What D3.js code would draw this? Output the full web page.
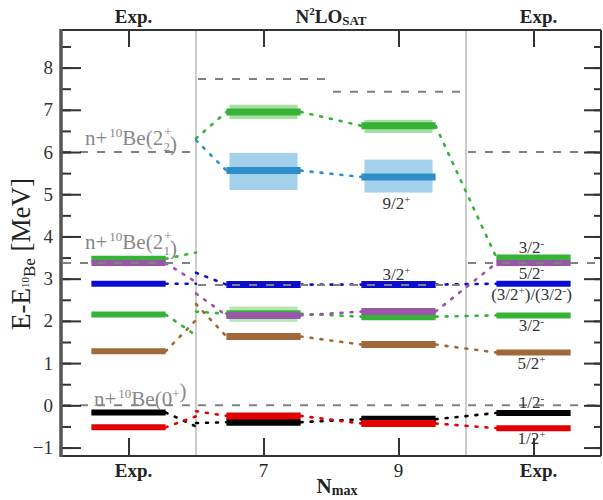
<!DOCTYPE html>
<html>
<head>
<meta charset="UTF-8">
<script src="https://cdn.jsdelivr.net/npm/d3@7/dist/d3.min.js"></script>
<style>
body { margin: 0; background: #fff; }
text { font-family: "Liberation Serif", "DejaVu Serif", serif; }
</style>
</head>
<body>
<script>
// columns of the level scheme
var columns = ['Exp.', '7', '9', 'Exp.']
var columnBold = [true, false, false, true]

// states, in drawing order
var stateColors = ['#36b236', '#2e8ec9', '#36b236', '#0c0cd0', '#9a56a8', '#a1693a', '#000000', '#e20000']
var bandColors  = ['#a6dfa6', '#a3d0ea', '#b3e8b3', null, null, null, null, null]
// energies [MeV] at Exp, Nmax=7, Nmax=9, Exp
var energies = [
    [3.47, 6.95, 6.62, 3.50],
    [null, 5.56, 5.41, null],
    [2.15, 2.17, 2.10, 2.13],
    [2.88, 2.86, 2.86, 2.88],
    [3.37, 2.13, 2.22, 3.37],
    [1.28, 1.63, 1.44, 1.25],
    [-0.17, -0.40, -0.33, -0.18],
    [-0.52, -0.25, -0.43, -0.54]
]
var bandLow  = [[null, 6.78, 6.45, null], [null, 5.10, 5.04, null], [null, 1.98, null, null]]
var bandHigh = [[null, 7.12, 6.76, null], [null, 5.98, 5.82, null], [null, 2.34, null, null]]
// dotted links left of / right of the first separator
var sepLeft  = [3.62, null, 1.66, 2.88, 2.92, 2.02, -0.50, -0.26]
var sepRight = [6.32, 6.28, 2.22, 3.14, 2.65, 2.40, -0.42, -0.14]

// n+10Be thresholds per column
var thr0  = [0, 0, 0, 0]
var thr21 = [3.37, 2.85, 2.85, 3.37]
var thr22 = [6.0, 7.73, 7.43, 6.0]

// spin labels: text, parity, state index, above/below
var expLabels = [['3/2', '-', 0, 'above'], ['5/2', '-', 4, 'below'], ['(3/2+)/(3/2-)', '', 3, 'below'],
                 ['3/2', '-', 2, 'below'], ['5/2', '+', 5, 'below'], ['1/2', '-', 6, 'above'],
                 ['1/2', '+', 7, 'below']]
var thLabels = [['9/2', '+', 1, 'below'], ['3/2', '+', 3, 'above']]

var yTicks = d3.range(-1, 9, 1)
var yMinor = d3.range(-1, 9, 0.5)

var W = 603, H = 500
var L = 61, R = 601, T = 30, B = 456
var svg = d3.select('body').append('svg').attr('width', W).attr('height', H)

var x = d3.scaleLinear().domain([-0.5, 3.5]).range([L, R])
var y = d3.scaleLinear().domain([-1.2, 8.89]).range([B, T])
var hw = 0.275, bw = 0.252

// separators
svg.selectAll('.sep').data([0.5, 2.5]).enter().append('line')
    .attr('x1', d => x(d)).attr('x2', d => x(d)).attr('y1', T).attr('y2', B)
    .attr('stroke', '#bbb').attr('stroke-width', 1.5)

// dotted links
var links = []
energies.forEach(function(e, s) {
    if (sepLeft[s] != null) links.push([s, 0 + hw, e[0], 0.5, sepLeft[s]])
    if (sepRight[s] != null) links.push([s, 0.5, sepRight[s], 1 - hw, e[1]])
    links.push([s, 1 + hw, e[1], 2 - hw, e[2]])
    if (e[3] != null) links.push([s, 2 + hw, e[2], 3 - hw, e[3]])
})
svg.selectAll('.link').data(links).enter().append('line')
    .attr('x1', d => x(d[1])).attr('y1', d => y(d[2]))
    .attr('x2', d => x(d[3])).attr('y2', d => y(d[4]))
    .attr('stroke', d => stateColors[d[0]]).attr('stroke-width', 2.6)
    .attr('stroke-dasharray', '2,8').attr('stroke-linecap', 'round')

// uncertainty bands
var bands = []
bandLow.forEach(function(row, s) {
    row.forEach(function(lo, c) { if (lo != null) bands.push([s, c, lo, bandHigh[s][c]]) })
})
svg.selectAll('.band').data(bands).enter().append('rect')
    .attr('x', d => x(d[1] - bw)).attr('width', d => x(2 * bw) - x(0))
    .attr('y', d => y(d[3])).attr('height', d => y(d[2]) - y(d[3]))
    .attr('fill', d => bandColors[d[0]])

// levels
var bars = []
energies.forEach(function(e, s) {
    e.forEach(function(v, c) { if (v != null) bars.push([s, c, v]) })
})
svg.selectAll('.bar').data(bars).enter().append('line')
    .attr('x1', d => x(d[1] - hw)).attr('x2', d => x(d[1] + hw))
    .attr('y1', d => y(d[2])).attr('y2', d => y(d[2]))
    .attr('stroke', d => stateColors[d[0]])
    .attr('stroke-width', d => (d[1] == 1 || d[1] == 2) ? 7 : 6)

// thresholds
var thr = []
;[thr0, thr21, thr22].forEach(function(row) {
    row.forEach(function(v, c) { thr.push([c, v]) })
})
svg.selectAll('.thr').data(thr).enter().append('line')
    .attr('x1', d => x(d[0] - 0.5) + 2).attr('x2', d => x(d[0] + 0.5) - 2)
    .attr('y1', d => y(d[1])).attr('y2', d => y(d[1]))
    .attr('stroke', '#808080').attr('stroke-width', 2)
    .attr('stroke-dasharray', '8,9')

// threshold labels
function nBe(xx, yy, inner) {
    var t = svg.append('text').attr('x', xx).attr('y', yy).attr('fill', '#888').attr('font-size', 21)
    t.append('tspan').text('n+')
    t.append('tspan').attr('font-size', 13).attr('dx', 2).attr('dy', -8).text('10')
    t.append('tspan').attr('dy', 8).text('Be(')
    inner(t)
    t.append('tspan').text(')')
}
function twoPlus(t, sub) {
    t.append('tspan').text('2')
    t.append('tspan').attr('font-size', 13).attr('dx', 1).attr('dy', -9).text('+')
    t.append('tspan').attr('font-size', 13).attr('dx', -8).attr('dy', 15).text(sub)
    t.append('tspan').attr('dx', 3).attr('dy', -6).text('')
}
nBe(x(-0.5) + 24, y(6.0) - 7, t => twoPlus(t, '2'))
nBe(x(-0.5) + 24, y(3.37) - 14, t => twoPlus(t, '1'))
nBe(x(-0.5) + 33, y(0) + 1, function(t) {
    t.append('tspan').text('0')
    t.append('tspan').attr('font-size', 13).attr('dy', -8).text('+')
    t.append('tspan').attr('dy', 8).text('')
})

// spin labels
function spin(col, d) {
    var s = d[2], v = energies[s][col]
    var lo = bandLow[s] ? bandLow[s][col] : null
    var base = lo != null ? lo : v
    var yy = d[3] == 'above' ? y(v) - 5 : y(base) + 16
    var t = svg.append('text').attr('x', x(col) - 2).attr('y', yy).attr('text-anchor', 'middle')
        .attr('font-size', 17).attr('fill', '#333')
    if (d[0].indexOf('(') == 0) {
        t.append('tspan').text('(3/2')
        t.append('tspan').attr('font-size', 11).attr('dy', -6).text('+')
        t.append('tspan').attr('dy', 6).text(')/(3/2')
        t.append('tspan').attr('font-size', 11).attr('dy', -6).text('-')
        t.append('tspan').attr('dy', 6).text(')')
    } else {
        t.append('tspan').text(d[0])
        t.append('tspan').attr('font-size', 11).attr('dy', -6).text(d[1])
    }
}
expLabels.forEach(d => spin(3, d))
thLabels.forEach(d => spin(2, d))

// axes
var frame = svg.append('g')
frame.append('g').attr('transform', 'translate(' + L + ',0)')
    .call(d3.axisLeft(y).tickValues(yMinor).tickSize(-10).tickFormat(''))
frame.append('g').attr('transform', 'translate(' + L + ',0)')
    .call(d3.axisLeft(y).tickValues(yTicks).tickSize(-20).tickPadding(8).tickFormat(d3.format('d')))
frame.append('g').attr('transform', 'translate(' + R + ',0)')
    .call(d3.axisRight(y).tickValues(yMinor).tickSize(-7).tickFormat(''))
frame.append('g').attr('transform', 'translate(' + R + ',0)')
    .call(d3.axisRight(y).tickValues(yTicks).tickSize(-17).tickFormat(''))
frame.append('g').attr('transform', 'translate(0,' + T + ')')
    .call(d3.axisTop(x).tickValues([0, 1, 2, 3]).tickSize(-17).tickFormat(''))
frame.append('g').attr('transform', 'translate(0,' + B + ')')
    .call(d3.axisBottom(x).tickValues([0, 1, 2, 3]).tickSize(-18).tickFormat(''))
frame.selectAll('.domain').remove()
frame.selectAll('.tick line').attr('stroke', '#333').attr('stroke-width', 2)
frame.selectAll('.tick text').attr('font-size', 19).attr('fill', '#333')
    .attr('font-family', '"Liberation Serif", serif')

svg.append('line').attr('x1', L).attr('x2', R).attr('y1', T).attr('y2', T).attr('stroke', '#333').attr('stroke-width', 2.2)
svg.append('line').attr('x1', L).attr('x2', R).attr('y1', B).attr('y2', B).attr('stroke', '#333').attr('stroke-width', 2.2)
svg.append('line').attr('x1', R).attr('x2', R).attr('y1', T).attr('y2', B).attr('stroke', '#333').attr('stroke-width', 2)
svg.append('line').attr('x1', L).attr('x2', L).attr('y1', T - 1).attr('y2', B + 1).attr('stroke', '#555').attr('stroke-width', 3.5)

// column labels
svg.selectAll('.bot').data(columns).enter().append('text')
    .attr('x', (d, i) => x(i) + (columnBold[i] ? 5 : 0)).attr('y', 477)
    .attr('text-anchor', 'middle').attr('font-size', 19).attr('fill', '#222')
    .attr('font-weight', (d, i) => columnBold[i] ? 'bold' : 'normal')
    .text(d => d)
svg.selectAll('.top').data([columns[0], columns[3]]).enter().append('text')
    .attr('x', (d, i) => x(i * 3) + 5).attr('y', 23)
    .attr('text-anchor', 'middle').attr('font-size', 19).attr('fill', '#222').attr('font-weight', 'bold')
    .text(d => d)
var tt = svg.append('text').attr('x', x(1.5)).attr('y', 23).attr('text-anchor', 'middle')
    .attr('font-size', 19).attr('font-weight', 'bold').attr('fill', '#222')
tt.append('tspan').text('N')
tt.append('tspan').attr('font-size', 11).attr('dy', -8).text('2')
tt.append('tspan').attr('dy', 8).text('LO')
tt.append('tspan').attr('font-size', 13).attr('dy', 2).text('SAT')

var nm = svg.append('text').attr('x', x(1.5) + 6).attr('y', 493).attr('text-anchor', 'middle')
    .attr('font-size', 21).attr('font-weight', 'bold').attr('fill', '#222')
nm.append('tspan').text('N')
nm.append('tspan').attr('font-size', 14).attr('dy', 2).text('max')

var yl = svg.append('text').attr('transform', 'translate(30,' + 254 + ') rotate(-90)')
    .attr('text-anchor', 'middle').attr('font-size', 27).attr('fill', '#222')
yl.append('tspan').text('E-E')
yl.append('tspan').attr('font-size', 11).attr('dy', -1).text('10')
yl.append('tspan').attr('font-size', 17).attr('dy', 6).text('Be')
yl.append('tspan').attr('dy', -5).text(' [MeV]')
</script>
</body>
</html>
